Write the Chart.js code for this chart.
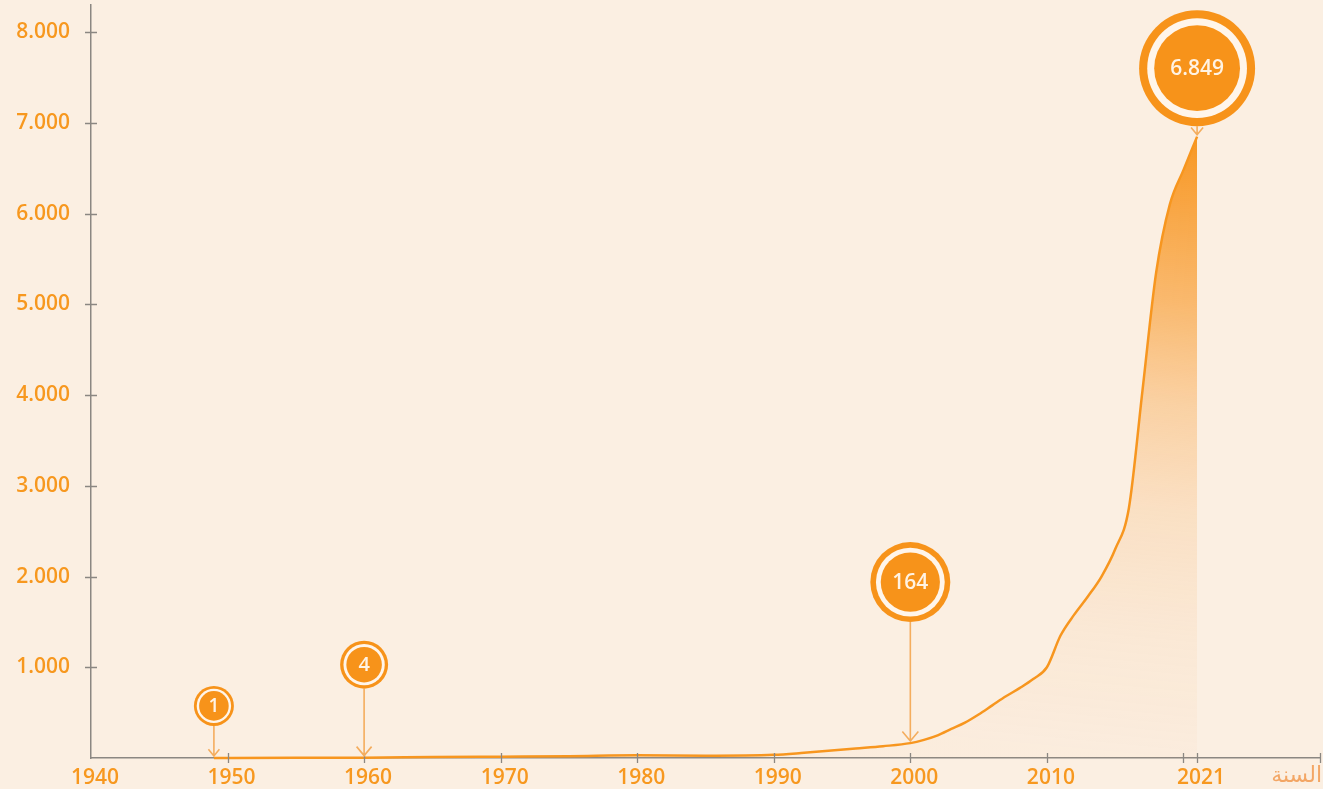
<!DOCTYPE html>
<html>
<head>
<meta charset="utf-8">
<script src="https://cdn.jsdelivr.net/npm/chart.js@4"></script>
<style>
  html, body { margin: 0; padding: 0; background: #fbefe2; }
  #wrap { width: 1323px; height: 789px; }
</style>
</head>
<body>
<div id="wrap"><canvas id="growthChart" width="1323" height="789"></canvas></div>
<script>
/* global Chart */
// yearly cumulative count
const years = [1949, 1950, 1955, 1960, 1965, 1970, 1975, 1980, 1985, 1990,
  1992, 1994, 1996, 1998, 2000, 2001, 2002, 2003, 2004, 2005, 2006, 2007,
  2008, 2009, 2010, 2011, 2012, 2013, 2014, 2015, 2016, 2017, 2018, 2019,
  2020, 2021];
const counts = [1, 1, 2, 4, 10, 15, 20, 30, 25, 35,
  55, 80, 105, 130, 164, 200, 250, 320, 390, 480, 580, 680,
  770, 870, 1000, 1350, 1580, 1780, 2000, 2300, 2750, 4050, 5350, 6100,
  6480, 6849];

const xTicks = [1940, 1950, 1960, 1970, 1980, 1990, 2000, 2010, 2020, 2021, 2030];
const xHidden = [2020, 2030];
const yTicks = [1000, 2000, 3000, 4000, 5000, 6000, 7000, 8000];
const markerYears = [1949, 1960, 2000, 2021];
const axisTitle = "السنة";

const ORANGE = "#f7931a";
const LABEL_ORANGE = "#f7981f";
const AXIS_GRAY = "#8b8782";

function dotted(n) {
  return String(n).replace(/\B(?=(\d{3})+(?!\d))/g, ".");
}

// badge look per marker (radius, distance of centre above the point, arrow head)
const badgeStyle = {
  1949: { r: 20, lift: 52, head: 5.5, font: 19 },
  1960: { r: 24, lift: 93, head: 7.5, font: 20 },
  2000: { r: 40, lift: 161, head: 8, font: 21 },
  2021: { r: 58, lift: 68.5, head: 6, font: 21 },
};

const tickMarks = {
  id: "tickMarks",
  afterDatasetsDraw(chart) {
    const { ctx, scales } = chart;
    const x = scales.x;
    const y = scales.y;
    ctx.save();
    ctx.strokeStyle = AXIS_GRAY;
    ctx.lineWidth = 1.3;
    ctx.beginPath();
    xTicks.forEach(function (v) {
      if (v === 1940) return;
      const px = Math.round(x.getPixelForValue(v)) + 0.5;
      ctx.moveTo(px, y.bottom - 5);
      ctx.lineTo(px, y.bottom + 5);
    });
    yTicks.forEach(function (v) {
      const py = Math.round(y.getPixelForValue(v)) + 0.5;
      ctx.moveTo(x.left - 6, py);
      ctx.lineTo(x.left + 6, py);
    });
    ctx.stroke();

    ctx.fillStyle = "#f3a665";
    ctx.font = "22px 'DejaVu Sans'";
    ctx.textAlign = "right";
    ctx.textBaseline = "middle";
    ctx.fillText(axisTitle, x.right + 2, y.bottom + 18);
    ctx.restore();
  },
};

const badges = {
  id: "badges",
  afterDatasetsDraw(chart) {
    const { ctx } = chart;
    const meta = chart.getDatasetMeta(0);
    ctx.save();
    markerYears.forEach(function (yr) {
      const i = years.indexOf(yr);
      const pt = meta.data[i];
      const s = badgeStyle[yr];
      const cx = pt.x;
      const cy = pt.y - s.lift;
      const tip = pt.y - 2;

      // arrow
      ctx.strokeStyle = "#f4ad5e";
      ctx.lineWidth = 1.6;
      ctx.beginPath();
      ctx.moveTo(cx, cy + s.r);
      ctx.lineTo(cx, tip);
      ctx.moveTo(cx - s.head, tip - s.head * 1.2);
      ctx.lineTo(cx, tip);
      ctx.lineTo(cx + s.head, tip - s.head * 1.2);
      ctx.stroke();

      // ring, gap, disc
      ctx.fillStyle = ORANGE;
      ctx.beginPath();
      ctx.arc(cx, cy, s.r, 0, Math.PI * 2);
      ctx.fill();
      ctx.fillStyle = "#fff5ea";
      ctx.beginPath();
      ctx.arc(cx, cy, s.r * 0.86, 0, Math.PI * 2);
      ctx.fill();
      ctx.fillStyle = ORANGE;
      ctx.beginPath();
      ctx.arc(cx, cy, s.r * 0.74, 0, Math.PI * 2);
      ctx.fill();

      ctx.fillStyle = "#fff3e4";
      ctx.font = "600 " + s.font + "px 'Open Sans'";
      ctx.textAlign = "center";
      ctx.textBaseline = "middle";
      ctx.fillText(dotted(counts[i]), cx, cy + 1);
    });
    ctx.restore();
  },
};

function areaFill(context) {
  const chart = context.chart;
  const { ctx, chartArea, scales } = chart;
  if (!chartArea) return null;
  const top = scales.y.getPixelForValue(6849);
  const bottom = scales.y.getPixelForValue(0);
  const xr = scales.x.getPixelForValue(2021);
  const g = ctx.createLinearGradient(xr, top, xr - 60, bottom);
  g.addColorStop(0, "rgba(247,146,24,0.95)");
  g.addColorStop(0.27, "rgba(248,152,40,0.62)");
  g.addColorStop(0.43, "rgba(249,160,60,0.38)");
  g.addColorStop(0.6, "rgba(249,165,75,0.2)");
  g.addColorStop(0.8, "rgba(249,170,90,0.09)");
  g.addColorStop(1, "rgba(249,170,90,0.03)");
  return g;
}

new Chart(document.getElementById("growthChart"), {
  type: "line",
  data: {
    datasets: [
      {
        data: years.map(function (yr, i) {
          return { x: yr, y: counts[i] };
        }),
        borderColor: "#f7961f",
        borderWidth: 2.5,
        backgroundColor: areaFill,
        fill: "origin",
        pointRadius: 0,
        cubicInterpolationMode: "monotone",
        clip: false,
      },
    ],
  },
  options: {
    responsive: false,
    animation: false,
    layout: { padding: { top: 5, right: 3, left: 0, bottom: 0 } },
    plugins: {
      legend: { display: false },
      tooltip: { enabled: false },
    },
    scales: {
      x: {
        type: "linear",
        min: 1940,
        max: 2030,
        afterBuildTicks: function (scale) {
          scale.ticks = xTicks.map(function (v) {
            return { value: v };
          });
        },
        afterFit: function (scale) {
          scale.height = 31;
          scale.paddingLeft = 0;
          scale.paddingRight = 0;
        },
        grid: { display: false, drawTicks: false },
        border: { display: true, color: AXIS_GRAY, width: 1.5 },
        ticks: {
          autoSkip: false,
          maxRotation: 0,
          padding: 7,
          labelOffset: 4,
          color: LABEL_ORANGE,
          font: { family: "'Open Sans'", size: 21, weight: "600" },
          callback: function (v) {
            return xHidden.indexOf(v) >= 0 ? "" : String(v);
          },
        },
      },
      y: {
        min: 0,
        max: 8300,
        afterBuildTicks: function (scale) {
          scale.ticks = yTicks.map(function (v) {
            return { value: v };
          });
        },
        afterFit: function (scale) {
          scale.width = 91;
          scale.paddingTop = 0;
          scale.paddingBottom = 0;
        },
        grid: { display: false, drawTicks: false },
        border: { display: true, color: AXIS_GRAY, width: 1.5 },
        ticks: {
          padding: 21,
          color: LABEL_ORANGE,
          font: { family: "'Open Sans'", size: 21, weight: "600" },
          callback: function (v) {
            return dotted(v);
          },
        },
      },
    },
  },
  plugins: [tickMarks, badges],
});
</script>
</body>
</html>
